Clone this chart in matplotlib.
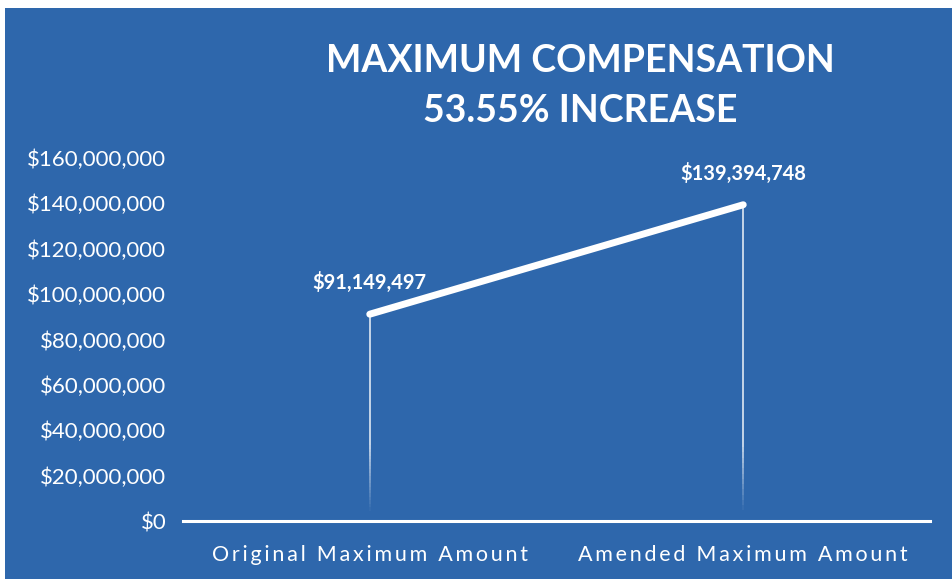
import numpy as np
import matplotlib.pyplot as plt
from matplotlib.patches import Rectangle
from matplotlib.collections import LineCollection
from matplotlib.ticker import FuncFormatter

# Datos
categories = ["Original Maximum Amount", "Amended Maximum Amount"]
amounts = [91149497, 139394748]
point_labels = ["$91,149,497", "$139,394,748"]
title = "MAXIMUM COMPENSATION\n53.55% INCREASE"

bg = "#2e67ac"
fonts = ["Lato", "DejaVu Sans"]

fig = plt.figure(figsize=(9.53, 5.79), dpi=100, facecolor="white")
# fondo azul (el escaneo deja un borde blanco arriba y a la izquierda)
fig.patches.append(Rectangle((5 / 953, 0), 1, 1 - 8 / 579, transform=fig.transFigure,
                             facecolor=bg, edgecolor="none", zorder=-10))

ax = fig.add_axes([183 / 953, 1 - 521 / 579, (930 - 183) / 953, (521 - 158) / 579])
ax.set_facecolor("none")
ax.set_zorder(5)

x = list(range(len(categories)))

# lineas verticales que se desvanecen cerca del eje
n = 60
for xi, v in zip(x, amounts):
    ys = np.linspace(0, v, n + 1)
    segs = [[(xi, ys[i]), (xi, ys[i + 1])] for i in range(n)]
    mid = (ys[:-1] + ys[1:]) / 2
    alphas = np.clip((mid - 4e6) / 30e6, 0, 1) * 0.85
    cols = [(1, 1, 1, a) for a in alphas]
    ax.add_collection(LineCollection(segs, colors=cols, linewidths=1.2))

ax.plot(x, amounts, color="white", linewidth=5, solid_capstyle="round")

for xi, v, lab in zip(x, amounts, point_labels):
    ax.annotate(lab, (xi, v), xytext=(0, 15), textcoords="offset points",
                ha="center", va="bottom", color="white", fontsize=14.5,
                fontweight="bold", family=fonts)

ax.set_xlim(-0.5, 1.5)
ax.set_ylim(0, 160000000)
ax.set_yticks(range(0, 160000001, 20000000))
ax.yaxis.set_major_formatter(FuncFormatter(lambda v, p: f"${v:,.0f}"))
ax.set_xticks(x)
# espaciado entre letras como en el original
ax.set_xticklabels(["\u2009".join(c) for c in categories])

for s in ["top", "right", "left"]:
    ax.spines[s].set_visible(False)
ax.spines["bottom"].set_color("white")
ax.spines["bottom"].set_linewidth(2.2)
ax.tick_params(axis="both", length=0, colors="white")
ax.tick_params(axis="y", pad=12, labelsize=16)
ax.tick_params(axis="x", pad=17, labelsize=15.5)
for t in ax.get_xticklabels() + ax.get_yticklabels():
    t.set_family(fonts)

fig.text(580 / 953, 1 - 86 / 579, title, ha="center", va="center", color="white",
         fontsize=27, fontweight="bold", family=fonts, linespacing=1.55, zorder=6)

fig.savefig("out.png", dpi=100, facecolor=fig.get_facecolor())
